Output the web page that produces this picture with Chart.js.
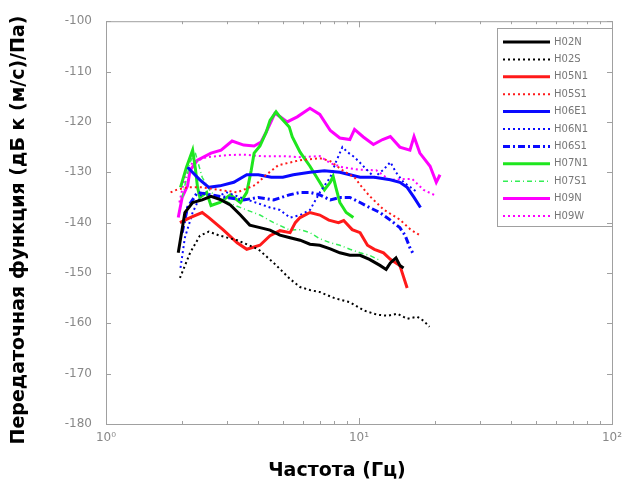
<!DOCTYPE html>
<html>
<head>
<meta charset="utf-8">
<script src="https://cdn.jsdelivr.net/npm/chart.js"></script>
<style>
  html, body { margin: 0; padding: 0; background: #fff; }
  #wrap { width: 633px; height: 488px; }
</style>
</head>
<body>
<div id="wrap"><canvas id="chart" width="633" height="488"></canvas></div>
<script>
// axis ticks and titles
const xTicks = [1, 10, 100];
const yTicks = [-180, -170, -160, -150, -140, -130, -120, -110, -100];
const xTitle = 'Частота (Гц)';
const yTitle = 'Передаточная функция (дБ к (м/с)/Па)';

// series (frequency in Hz, transfer function in dB)
const h02nF = [1.93, 2.05, 2.2, 2.4, 2.6, 2.85, 3.1, 3.4, 3.7, 4.06, 4.45, 4.87, 5.34, 5.85, 6.4, 7.0, 7.7, 8.4, 9.2, 10.1, 11, 12.1, 12.8, 13.3, 14, 14.5, 15];
const h02nV = [-146, -138, -136, -135.5, -134.8, -135.5, -136.5, -138.5, -140.5, -141, -141.5, -142.5, -143, -143.5, -144.3, -144.5, -145.2, -146, -146.5, -146.5, -147.3, -148.5, -149.3, -148, -147, -148.5, -149];

const h02sF = [1.96, 2.15, 2.35, 2.55, 2.82, 3.3, 4.0, 4.6, 5.34, 5.85, 6.4, 7.0, 8.0, 9.2, 10.5, 11.8, 13, 14.2, 15.5, 17, 18, 19];
const h02sV = [-151, -146, -142.6, -141.8, -142.6, -143.5, -145.3, -148, -151.2, -152.8, -153.4, -153.8, -155, -155.8, -157.5, -158.3, -158.5, -158.1, -159.1, -158.7, -159.5, -160.7];

const h05n1F = [1.96, 2.15, 2.4, 2.55, 2.9, 3.3, 3.6, 4.06, 4.45, 4.87, 5.34, 5.6, 5.85, 6.4, 7.0, 7.6, 8.3, 8.7, 9.4, 10.1, 10.8, 11.5, 12.5, 13.3, 14.5, 15.5];
const h05n1V = [-140, -139, -138, -139, -141.4, -144, -145.3, -144.5, -142.6, -141.6, -142, -140, -139, -138, -138.5, -139.5, -140, -139.6, -141.4, -142, -144.5, -145.3, -146, -147.3, -148.5, -153];

const h05s1F = [1.8, 1.9, 2.1, 2.4, 2.8, 3.3, 3.9, 4.3, 4.8, 5.85, 7.0, 7.7, 8.6, 9.6, 10.1, 11, 12.5, 14.5, 16, 17.5];
const h05s1V = [-134, -133.5, -133, -133, -133.5, -134, -132.5, -130.5, -128.6, -127.6, -127.2, -127.8, -129.6, -131, -132.5, -134.7, -137.4, -139.4, -141.4, -142.6];

const h06e1F = [2.1, 2.35, 2.55, 2.82, 3.2, 3.6, 4.0, 4.5, 5.0, 5.5, 6.4, 7.3, 8.4, 9.2, 10.1, 11.5, 13.3, 14.5, 15.5, 16.5, 17.5];
const h06e1V = [-129, -131.5, -133, -132.7, -132, -130.5, -130.5, -131, -131, -130.5, -130, -129.7, -130, -130.5, -131, -131, -131.5, -132, -133, -135, -137];

const h06n1F = [1.97, 2.05, 2.2, 2.4, 2.7, 3.0, 3.4, 3.9, 4.45, 4.87, 5.34, 5.85, 6.4, 7.0, 7.7, 8.1, 8.6, 9.0, 9.6, 10.5, 11.5, 12.5, 13.3, 14, 15, 16, 17];
const h06n1V = [-149, -143, -138, -134, -135, -134, -135, -136, -137, -137.5, -139, -138.5, -137.5, -134, -131, -128, -125, -126, -127, -129, -131, -129.5, -128, -130, -132, -133, -134];

const h06s1F = [2.0, 2.1, 2.3, 2.6, 3.0, 3.5, 4.0, 4.6, 5.3, 5.85, 6.4, 7.0, 7.7, 8.4, 9.2, 10.1, 11, 12.1, 13.3, 14.5, 15.2, 15.9, 16.3];
const h06s1V = [-142, -137, -134, -134.5, -135, -135.5, -135, -135.5, -134.5, -134, -134, -134.5, -135.5, -135, -135, -136, -137, -138, -139.5, -141, -142.5, -145, -146];

const h07n1F = [1.97, 2.08, 2.2, 2.26, 2.3, 2.35, 2.5, 2.6, 2.82, 3.1, 3.4, 3.6, 3.75, 3.85, 4.06, 4.3, 4.45, 4.7, 4.87, 5.3, 5.45, 5.85, 6.4, 6.9, 7.3, 7.7, 7.9, 8.1, 8.4, 8.9, 9.5];
const h07n1V = [-133, -129, -125.6, -129.6, -133, -135, -134, -136.6, -136, -134.5, -136, -134, -129.6, -126.2, -124.8, -122, -119.7, -118, -119, -121, -123, -126, -128.8, -131.5, -133.5, -132, -130.8, -133, -136, -138, -139];

const h07s1F = [2.0, 2.15, 2.25, 2.4, 2.6, 2.9, 3.2, 3.6, 4.06, 4.6, 5.34, 5.85, 6.4, 7.0, 7.7, 8.4, 9.2, 10.1, 11, 12.1];
const h07s1V = [-135, -128, -126, -131, -134, -135.5, -136.5, -137.5, -138.5, -140, -141.5, -141.4, -142, -143.2, -144, -144.5, -145.3, -146, -146.5, -147.5];

const h09nF = [1.93, 2.0, 2.1, 2.15, 2.3, 2.6, 2.85, 3.15, 3.5, 3.85, 4.1, 4.3, 4.65, 4.9, 5.2, 5.7, 6.4, 7.0, 7.7, 8.4, 9.2, 9.6, 10.4, 11.4, 12.4, 13.3, 14.5, 15.9, 16.5, 17.4, 19.1, 20.2, 20.9];
const h09nV = [-139, -135, -132.7, -129.6, -127.6, -126.2, -125.6, -123.8, -124.6, -124.8, -124, -122, -118.3, -119, -120, -119, -117.3, -118.5, -121.7, -123.2, -123.5, -121.5, -123, -124.5, -123.5, -122.9, -125, -125.6, -122.9, -126.2, -128.8, -132, -130.5];

const h09wF = [1.95, 2.05, 2.2, 2.5, 3.0, 3.5, 4.1, 5.0, 5.85, 7.0, 7.7, 8.6, 10, 11.7, 13.2, 16.2, 18, 20.2];
const h09wV = [-136, -131, -128, -127, -126.6, -126.5, -126.8, -126.8, -127, -126.8, -128.2, -129, -129.5, -129.6, -131.5, -131.3, -133.5, -134.7];

const seriesNames = ['H02N', 'H02S', 'H05N1', 'H05S1', 'H06E1', 'H06N1', 'H06S1', 'H07N1', 'H07S1', 'H09N', 'H09W'];
const seriesF = [h02nF, h02sF, h05n1F, h05s1F, h06e1F, h06n1F, h06s1F, h07n1F, h07s1F, h09nF, h09wF];
const seriesV = [h02nV, h02sV, h05n1V, h05s1V, h06e1V, h06n1V, h06s1V, h07n1V, h07s1V, h09nV, h09wV];

// styles
const colors = ['#000000', '#000000', '#ff1a1a', '#ff1a1a', '#0a0aff', '#0a0aff', '#0a0aff', '#1ee61e', '#33ee55', '#ff00ff', '#ff00ff'];
const widths = [3, 2, 3, 2, 3, 2, 3, 3, 1.5, 3, 2];
const dashes = [[], [2, 3], [], [2, 3], [], [2, 3], [7, 3, 2, 3], [], [5, 3, 1, 3], [], [2, 3]];

const datasets = seriesNames.map((name, i) => ({
    label: name,
    data: seriesF[i].map((f, j) => ({x: f, y: seriesV[i][j]})),
    borderColor: colors[i],
    borderWidth: widths[i],
    borderDash: dashes[i],
    pointRadius: 0,
    tension: 0,
    fill: false
}));

// box round the plot, with inward ticks, plus the two axis titles
const framePlugin = {
    id: 'frame',
    afterDraw(chart) {
        const {ctx, chartArea: a, scales} = chart;
        ctx.save();
        ctx.strokeStyle = '#a0a0a0';
        ctx.lineWidth = 1;
        ctx.strokeRect(a.left + 0.5, a.top + 0.5, a.right - a.left, a.bottom - a.top);
        ctx.beginPath();
        yTicks.forEach(v => {
            const y = Math.round(scales.y.getPixelForValue(v)) + 0.5;
            ctx.moveTo(a.left, y); ctx.lineTo(a.left + 5, y);
            ctx.moveTo(a.right, y); ctx.lineTo(a.right - 5, y);
        });
        for (let d = 1; d < 100; d *= 10) {
            for (let k = 1; k <= 10; k++) {
                const v = d * k;
                if (v > 100) continue;
                const len = (k === 1 || k === 10) ? 6 : 3;
                const x = Math.round(scales.x.getPixelForValue(v)) + 0.5;
                ctx.moveTo(x, a.bottom); ctx.lineTo(x, a.bottom - len);
                ctx.moveTo(x, a.top); ctx.lineTo(x, a.top + len);
            }
        }
        ctx.stroke();

        ctx.fillStyle = '#000';
        ctx.font = 'bold 19px "DejaVu Sans"';
        ctx.textAlign = 'center';
        ctx.textBaseline = 'middle';
        ctx.fillText(xTitle, 337, 471);
        ctx.translate(19, 230);
        ctx.rotate(-Math.PI / 2);
        ctx.fillText(yTitle, 0, 0);
        ctx.restore();
    }
};

// legend box inside the top right corner
const legendPlugin = {
    id: 'boxLegend',
    afterDatasetsDraw(chart) {
        const {ctx} = chart;
        const left = 497, top = 28, w = 115, h = 198, step = 17.4;
        ctx.save();
        ctx.fillStyle = '#fff';
        ctx.fillRect(left, top, w, h);
        ctx.strokeStyle = '#a0a0a0';
        ctx.lineWidth = 1;
        ctx.strokeRect(left + 0.5, top + 0.5, w, h);
        ctx.font = '10px "DejaVu Sans"';
        ctx.textBaseline = 'middle';
        chart.data.datasets.forEach((ds, i) => {
            const y = top + 14 + i * step;
            ctx.beginPath();
            ctx.strokeStyle = ds.borderColor;
            ctx.lineWidth = ds.borderWidth;
            ctx.setLineDash(ds.borderDash);
            ctx.moveTo(left + 6, y);
            ctx.lineTo(left + 53, y);
            ctx.stroke();
            ctx.setLineDash([]);
            ctx.fillStyle = '#777';
            ctx.fillText(ds.label, left + 57, y);
        });
        ctx.restore();
    }
};

const sup = {1: '10\u2070', 10: '10\u00b9', 100: '10\u00b2'};

new Chart(document.getElementById('chart'), {
    type: 'line',
    data: {datasets},
    options: {
        responsive: false,
        animation: false,
        layout: {padding: {top: 17, right: 21, left: 0, bottom: 0}},
        plugins: {
            legend: {display: false},
            tooltip: {enabled: false}
        },
        scales: {
            x: {
                type: 'logarithmic',
                min: 1,
                max: 100,
                afterBuildTicks: (scale) => {
                    scale.ticks = xTicks.map(v => ({value: v}));
                },
                afterFit: (scale) => { scale.height = 64; },
                grid: {display: false, drawTicks: false},
                border: {display: false},
                ticks: {
                    padding: 7,
                    color: '#888',
                    font: {family: 'DejaVu Sans', size: 12},
                    maxRotation: 0,
                    callback: (v) => sup[v] || ''
                }
            },
            y: {
                min: -180,
                max: -100,
                afterBuildTicks: (scale) => {
                    scale.ticks = yTicks.map(v => ({value: v}));
                },
                afterFit: (scale) => { scale.width = 106; },
                grid: {display: false, drawTicks: false},
                border: {display: false},
                ticks: {
                    padding: 14,
                    color: '#888',
                    font: {family: 'DejaVu Sans', size: 12}
                }
            }
        }
    },
    plugins: [framePlugin, legendPlugin]
});
</script>
</body>
</html>
